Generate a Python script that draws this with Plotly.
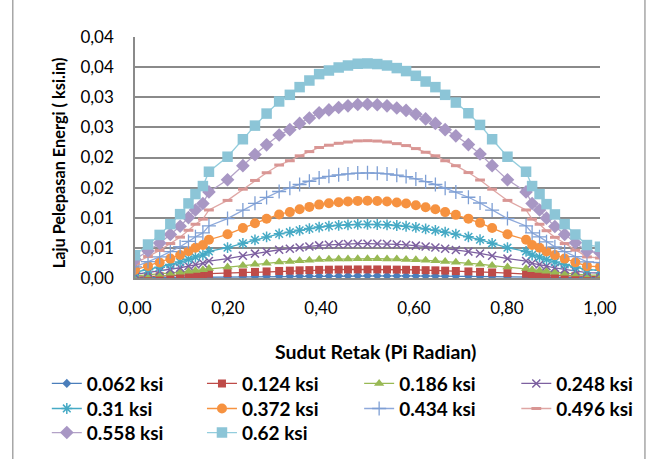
import plotly.graph_objects as go

# Crack angle (Pi radian)
x_vals = [0, 0.028, 0.053, 0.076, 0.097, 0.115, 0.130, 0.146, 0.159, 0.199, 0.232, 0.258, 0.283, 0.310,
          0.333, 0.354, 0.375, 0.396, 0.417, 0.438, 0.458, 0.479, 0.500, 0.521, 0.542, 0.563, 0.583,
          0.604, 0.625, 0.646, 0.667, 0.690, 0.717, 0.742, 0.768, 0.801, 0.841, 0.854, 0.870, 0.885,
          0.903, 0.924, 0.947, 0.972, 1.000]

# Energy release rate, values in units of 1e-4 ksi.in
UNIT = 1e-4
s_0062 = [0.4, 0.6, 0.7, 0.9, 1.1, 1.2, 1.4, 1.5, 1.8, 2.0, 2.3, 2.5, 2.7, 2.9, 3.0, 3.2, 3.3, 3.4, 3.4, 3.5,
          3.5, 3.6, 3.6, 3.6, 3.5, 3.5, 3.4, 3.4, 3.3, 3.2, 3.0, 2.9, 2.7, 2.5, 2.3, 2.0, 1.8, 1.5, 1.4, 1.2,
          1.1, 0.9, 0.7, 0.5, 0.5]
s_0124 = [1.5, 2.2, 2.9, 3.6, 4.2, 5.0, 5.6, 6.1, 7.1, 8.1, 9.2, 10.1, 10.9, 11.7, 12.2, 12.7, 13.1, 13.5,
          13.8, 14.0, 14.1, 14.2, 14.2, 14.2, 14.1, 13.9, 13.7, 13.4, 13.0, 12.7, 12.2, 11.6, 10.9, 10.2,
          9.2, 8.1, 7.1, 6.1, 5.6, 4.9, 4.2, 3.6, 2.9, 2.2, 2.1]
s_0186 = [3.4, 5.0, 6.4, 8.0, 9.5, 11.1, 12.5, 13.7, 15.9, 18.1, 20.7, 22.8, 24.6, 26.4, 27.4, 28.5, 29.5,
          30.5, 31.0, 31.4, 31.7, 32.0, 32.0, 32.0, 31.7, 31.4, 30.9, 30.2, 29.3, 28.5, 27.4, 26.2, 24.6,
          22.9, 20.7, 18.1, 15.9, 13.7, 12.5, 11.0, 9.5, 8.0, 6.5, 4.9, 4.7]
s_0248 = [6.0, 8.9, 11.4, 14.3, 17.0, 19.8, 22.3, 24.4, 28.2, 32.2, 36.8, 40.5, 43.7, 46.9, 48.6, 50.7, 52.4,
          54.1, 55.1, 55.9, 56.4, 56.9, 57.0, 56.8, 56.4, 55.7, 54.9, 53.7, 52.2, 50.7, 48.6, 46.6, 43.8,
          40.7, 36.8, 32.2, 28.2, 24.4, 22.3, 19.6, 16.9, 14.3, 11.6, 8.8, 8.3]
s_031 = [9.5, 13.9, 17.9, 22.4, 26.5, 31.0, 34.8, 38.2, 44.1, 50.3, 57.6, 63.2, 68.2, 73.3, 76.0, 79.2, 82.0,
         84.6, 86.1, 87.4, 88.2, 88.9, 89.0, 88.8, 88.2, 87.1, 85.9, 83.9, 81.5, 79.2, 76.0, 72.8, 68.4,
         63.5, 57.6, 50.3, 44.1, 38.2, 34.8, 30.7, 26.4, 22.4, 18.1, 13.7, 13.0]
s_0372 = [13.6, 20.0, 25.7, 32.2, 38.2, 44.6, 50.1, 54.9, 63.5, 72.5, 82.9, 91.0, 98.2, 105.5, 109.4, 114.0,
          118.0, 121.8, 124.0, 125.8, 127.0, 128.0, 128.2, 127.8, 127.0, 125.4, 123.6, 120.8, 117.4, 114.0,
          109.4, 104.8, 98.5, 91.5, 82.9, 72.5, 63.5, 54.9, 50.1, 44.1, 38.0, 32.2, 26.0, 19.7, 18.7]
s_0434 = [18.5, 27.2, 35.0, 43.8, 51.9, 60.7, 68.3, 74.8, 86.4, 98.6, 112.8, 123.9, 133.7, 143.6, 149.0, 155.2,
          160.6, 165.8, 168.8, 171.2, 172.8, 174.2, 174.5, 174.0, 172.8, 170.7, 168.3, 164.4, 159.8, 155.2,
          149.0, 142.7, 134.0, 124.5, 112.8, 98.6, 86.4, 74.8, 68.3, 60.1, 51.7, 43.8, 35.4, 26.8, 25.4]
s_0496 = [24.2, 35.6, 45.8, 57.2, 67.8, 79.2, 89.2, 97.7, 112.9, 128.8, 147.4, 161.9, 174.7, 187.5, 194.6,
          202.8, 209.8, 216.6, 220.4, 223.6, 225.7, 227.6, 227.9, 227.3, 225.7, 223.0, 219.8, 214.8, 208.7,
          202.8, 194.6, 186.4, 175.0, 162.6, 147.4, 128.8, 112.9, 97.7, 89.2, 78.5, 67.5, 57.2, 46.2, 35.0, 33.2]
s_0558 = [30.6, 45.0, 57.9, 72.4, 85.9, 100.3, 112.8, 123.6, 142.9, 163.1, 186.5, 204.8, 221.0, 237.3, 246.2,
          256.6, 265.5, 274.1, 279.0, 283.0, 285.7, 288.0, 288.4, 287.6, 285.7, 282.2, 278.2, 271.8, 264.1,
          256.6, 246.2, 235.9, 221.5, 205.8, 186.5, 163.1, 142.9, 123.6, 112.8, 99.3, 85.5, 72.4, 58.5, 44.3, 42.0]
s_062 = [37.8, 55.6, 71.5, 89.4, 106.0, 123.8, 139.3, 152.6, 176.4, 201.3, 230.3, 252.9, 272.9, 293.0, 304.0,
         316.8, 327.8, 338.4, 344.4, 349.4, 352.7, 355.6, 356.1, 355.1, 352.7, 348.4, 343.4, 335.6, 326.1,
         316.8, 304.0, 291.2, 273.5, 254.1, 230.3, 201.3, 176.4, 152.6, 139.3, 122.6, 105.5, 89.4, 72.2, 54.7, 51.9]

series_names = ["0.062 ksi", "0.124 ksi", "0.186 ksi", "0.248 ksi", "0.31 ksi",
                "0.372 ksi", "0.434 ksi", "0.496 ksi", "0.558 ksi", "0.62 ksi"]
series_values = [s_0062, s_0124, s_0186, s_0248, s_031, s_0372, s_0434, s_0496, s_0558, s_062]

y_tickvals = [0, 0.005, 0.01, 0.015, 0.02, 0.025, 0.03, 0.035, 0.04]
y_ticktext = ["0,00", "0,01", "0,01", "0,02", "0,02", "0,03", "0,03", "0,04", "0,04"]
x_tickvals = [0, 0.2, 0.4, 0.6, 0.8, 1.0]
x_ticktext = ["0,00", "0,20", "0,40", "0,60", "0,80", "1,00"]

styles = [
    dict(symbol="diamond", size=7, mcolor="#4A7EBB", lcolor="#4A7EBB", lw=0),
    dict(symbol="square", size=8, mcolor="#BE4B48", lcolor="#BE4B48", lw=0),
    dict(symbol="triangle-up", size=9, mcolor="#98B954", lcolor="#98B954", lw=0),
    dict(symbol="x-thin", size=8, mcolor="#7D60A0", lcolor="#7D60A0", lw=1.5),
    dict(symbol="asterisk", size=9, mcolor="#46AAC5", lcolor="#46AAC5", lw=1.5),
    dict(symbol="circle", size=10, mcolor="#F69240", lcolor="#F69240", lw=0),
    dict(symbol="cross-thin", size=10, mcolor="#7E9FD4", lcolor="#8EA9DB", lw=1.3),
    dict(symbol="line-ew", size=7, mcolor="#D99694", lcolor="#DFA6A4", lw=3),
    dict(symbol="diamond", size=10.5, mcolor="#A897C4", lcolor="#B3A2C7", lw=0),
    dict(symbol="square", size=10.5, mcolor="#8CC5D7", lcolor="#93CDDD", lw=0),
]

# Legend grid (4 columns x 3 rows), pixel positions converted to paper coords
PL, PW, PB, PH = 135.1, 464.5, 277.7, 240.4
col_px = [47, 202, 359, 516]
row_px = [383, 408, 432]

fig = go.Figure()
layout_legends = {}
for i, (name, vals, st) in enumerate(zip(series_names, series_values, styles)):
    marker = dict(symbol=st["symbol"], size=st["size"], color=st["mcolor"])
    if st["lw"] > 0:
        marker["line"] = dict(color=st["mcolor"], width=st["lw"])
    lid = "legend" if i == 0 else f"legend{i + 1}"
    fig.add_trace(go.Scatter(
        x=x_vals, y=[v * UNIT for v in vals], name=name, mode="lines+markers",
        line=dict(color=st["lcolor"], width=1.3), marker=marker, legend=lid,
    ))
    r, c = divmod(i, 4)
    layout_legends[lid] = dict(
        x=(col_px[c] - PL) / PW, xanchor="left",
        y=(PB - row_px[r]) / PH, yanchor="middle",
        orientation="v", bgcolor="rgba(0,0,0,0)", borderwidth=0,
        font=dict(family="Lato", size=19, color="black", weight="bold"),
    )

grid = "#8A8A8A"
fig.update_layout(
    width=652, height=459,
    margin=dict(l=135.1, r=52.4, t=37.3, b=181.3, pad=0, autoexpand=False),
    paper_bgcolor="white", plot_bgcolor="white",
    font=dict(family="Lato", size=17, color="black"),
    showlegend=True,
    xaxis=dict(range=[0, 1], tickvals=x_tickvals, ticktext=x_ticktext,
               showgrid=False, zeroline=False, showline=True, linecolor=grid, linewidth=1.5,
               ticks="outside", ticklen=14, tickcolor="rgba(0,0,0,0)",
               tickfont=dict(family="Lato", size=17)),
    yaxis=dict(range=[0, 0.04], tickvals=y_tickvals, ticktext=y_ticktext,
               showgrid=True, gridcolor=grid, gridwidth=1.5, zeroline=False,
               showline=True, linecolor=grid, linewidth=1.5,
               ticks="outside", ticklen=16, tickcolor="rgba(0,0,0,0)",
               tickfont=dict(family="Lato", size=17)),
    annotations=[
        dict(text="Laju Pelepasan Energi ( ksi.in)", xref="paper", yref="paper",
             x=(59 - PL) / PW, y=(PB - 162.5) / PH, textangle=-90, showarrow=False,
             xanchor="center", yanchor="middle",
             font=dict(family="Lato", size=16.3, color="black", weight="bold")),
        dict(text="Sudut Retak (Pi Radian)", xref="paper", yref="paper",
             x=(375 - PL) / PW, y=(PB - 351) / PH, showarrow=False,
             xanchor="center", yanchor="middle",
             font=dict(family="Lato", size=19.5, color="black", weight="bold")),
    ],
    shapes=[
        dict(type="line", xref="paper", yref="paper", x0=(13 - PL) / PW, x1=(13 - PL) / PW, y0=-1, y1=2,
             line=dict(color="#A6A6A6", width=1.5)),
        dict(type="line", xref="paper", yref="paper", x0=(644.5 - PL) / PW, x1=(644.5 - PL) / PW, y0=-1, y1=2,
             line=dict(color="#A6A6A6", width=1.5)),
    ],
)
fig.update_layout(**layout_legends)

fig.write_html("out.html")
